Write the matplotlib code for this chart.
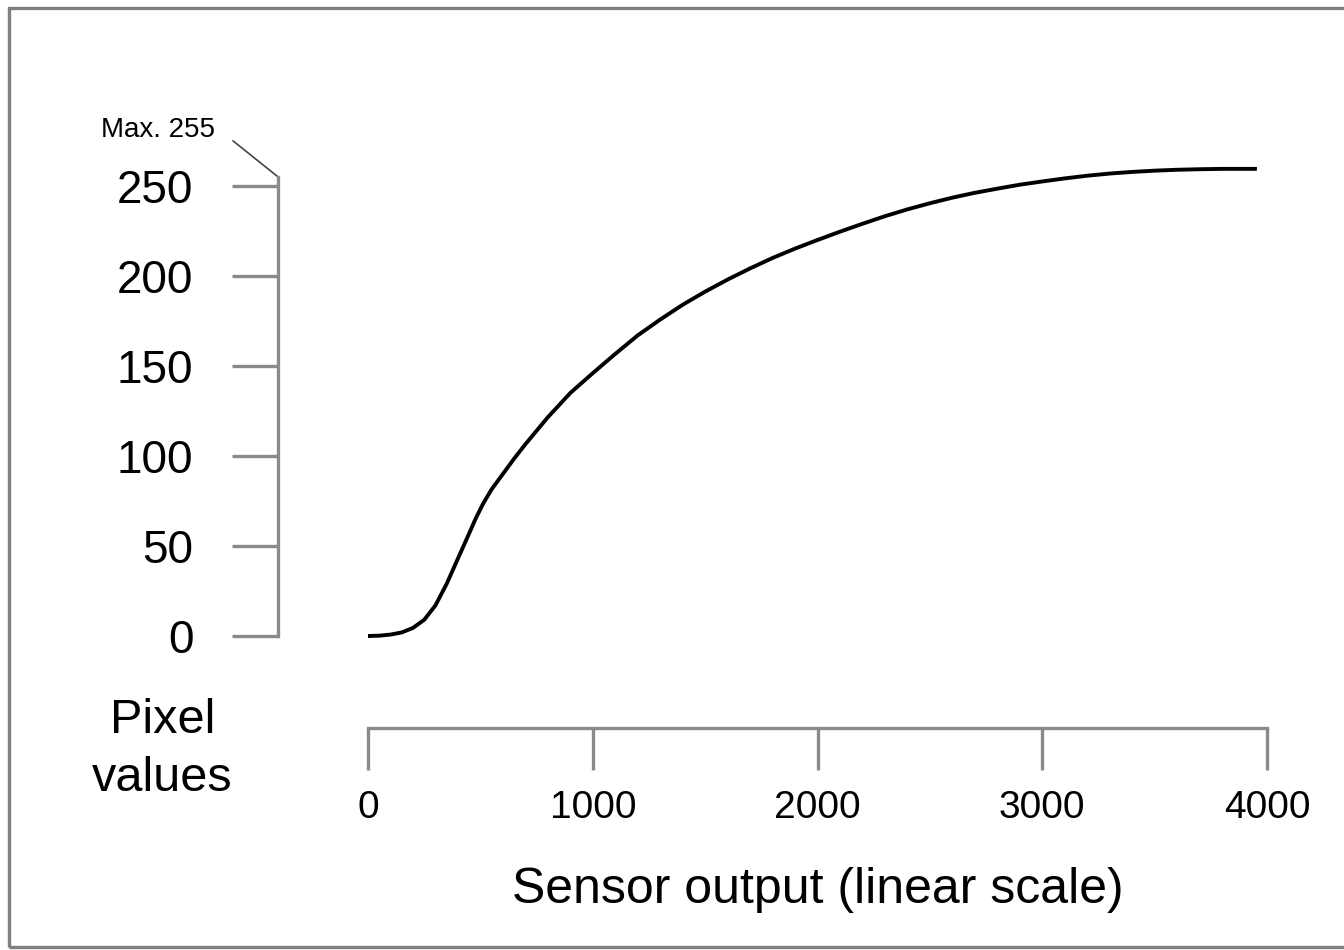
import matplotlib.pyplot as plt
from matplotlib.patches import Rectangle

plt.rcParams['font.family'] = ['Liberation Sans', 'DejaVu Sans']

# curve
sensor = [0, 50, 100, 150, 200, 250, 300, 350, 400, 450, 480, 512, 550, 600, 650, 700,
          800, 900, 1000, 1100, 1200, 1300, 1400, 1500, 1600, 1700, 1800, 1900, 2000,
          2100, 2200, 2300, 2400, 2500, 2600, 2700, 2800, 2900, 3000, 3100, 3200, 3300,
          3400, 3500, 3600, 3700, 3800, 3955]
pixel = [0, 0.2, 0.8, 2, 4.5, 9, 17, 29, 43, 57, 65.5, 73.5, 81.5, 90, 98.5, 106.5,
         121.5, 135, 146, 156.7, 167, 175.8, 184, 191.3, 198, 204.2, 210, 215.2, 220,
         224.6, 229, 233.2, 237, 240.4, 243.5, 246.2, 248.5, 250.7, 252.5, 254.2, 255.7, 256.9,
         257.8, 258.5, 259, 259.3, 259.5, 259.5]

x_ticks = [0, 1000, 2000, 3000, 4000]
y_ticks = [0, 50, 100, 150, 200, 250]
y_max = 255

axis_gray = '#8a8a8a'

fig = plt.figure(figsize=(13.44, 9.5), dpi=100)
ax = fig.add_axes([0, 0, 1, 1])
ax.patch.set_visible(False)

# map the whole figure to data space
ax.set_xlim(-1637.4, 4342.6)
ax.set_ylim(-174.4, 353.3)

ax.plot(sensor, pixel, color='black', lw=2.8, solid_capstyle='butt',
        solid_joinstyle='round')

ax.spines['top'].set_visible(False)
ax.spines['right'].set_visible(False)
ax.spines['left'].set_position(('data', -400))
ax.spines['left'].set_bounds(0, y_max)
ax.spines['bottom'].set_position(('data', -51))
ax.spines['bottom'].set_bounds(0, 4000)
for s in ['left', 'bottom']:
    ax.spines[s].set_color(axis_gray)
    ax.spines[s].set_linewidth(2.4)

ax.set_xticks(x_ticks)
ax.set_xticklabels([str(t) for t in x_ticks])
ax.set_yticks(y_ticks)
ax.set_yticklabels([str(t) for t in y_ticks])
ax.tick_params(axis='x', direction='out', length=30, width=2.4, color=axis_gray,
               labelsize=28, pad=15)
ax.tick_params(axis='y', direction='out', length=33, width=2.4, color=axis_gray,
               labelsize=33, pad=28)

# "Max. 255" pointer
ax.plot([-400, -600], [y_max, 275], color='#444444', lw=1.2, clip_on=False)
ax.text(-935, 281, 'Max. 255', fontsize=20, ha='center', va='center')

ax.text(-915, -63, 'Pixel\nvalues', fontsize=35, ha='center', va='center', linespacing=1.37)
ax.text(2000, -141, 'Sensor output (linear scale)', fontsize=36, ha='center', va='center')

# outer frame
fig.patches.append(Rectangle((9 / 1344, 3 / 950), 1.2, 1 - 11 / 950,
                             transform=fig.transFigure, fill=False,
                             edgecolor='#808080', lw=2.4))

fig.savefig('out.png', dpi=100)
